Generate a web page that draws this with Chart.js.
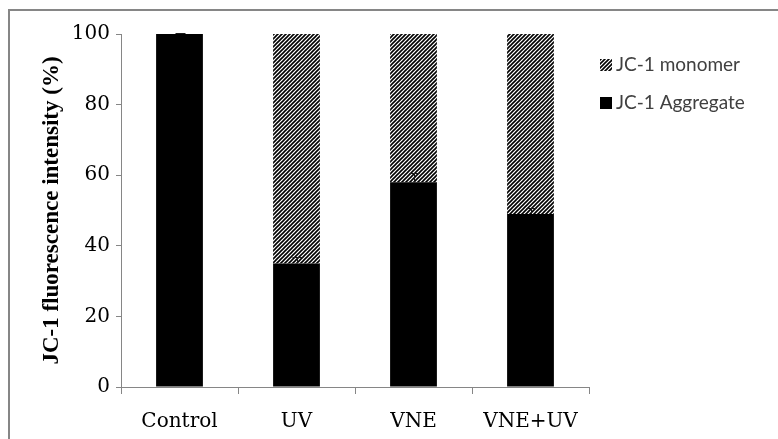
<!DOCTYPE html>
<html>
<head>
<meta charset="utf-8">
<script src="https://cdn.jsdelivr.net/npm/chart.js@4"></script>
<style>
  html, body { margin: 0; padding: 0; background: #fff; }
  #wrap { width: 778px; height: 439px; }
</style>
</head>
<body>
<div id="wrap"><canvas id="c" width="778" height="439"></canvas></div>
<script>
// Groups on the x axis
const categories = ['Control', 'UV', 'VNE', 'VNE+UV'];
// Share of JC-1 signal (%) per group
const aggregateValues = [100, 35, 58, 49];
const monomerValues = [0, 65, 42, 51];
// Upper error (SD) on the aggregate fraction
const aggregateErrors = [0.3, 1.7, 2.6, 1.7];
// Y axis ticks
const yTicks = [0, 20, 40, 60, 80, 100];

const seriesLabels = ['JC-1 Aggregate', 'JC-1 monomer'];
const AXIS_GRAY = '#868686';

// Diagonal "////" fill used for the monomer segment
function makeHatch() {
  const s = 4;
  const c = document.createElement('canvas');
  c.width = s; c.height = s;
  const g = c.getContext('2d');
  g.fillStyle = '#ffffff';
  g.fillRect(0, 0, s, s);
  g.strokeStyle = '#000000';
  g.lineWidth = 1.6;
  g.beginPath();
  g.moveTo(-1, s + 1); g.lineTo(s + 1, -1);
  g.moveTo(-1, 1); g.lineTo(1, -1);
  g.moveTo(s - 1, s + 1); g.lineTo(s + 1, s - 1);
  g.stroke();
  return g.createPattern(c, 'repeat');
}
const hatch = makeHatch();

// Outer frame around the figure
const framePlugin = {
  id: 'frame',
  beforeDraw(chart) {
    const ctx = chart.ctx;
    ctx.save();
    ctx.fillStyle = '#ffffff';
    ctx.fillRect(0, 0, chart.width, chart.height);
    ctx.strokeStyle = AXIS_GRAY;
    ctx.lineWidth = 2;
    ctx.strokeRect(9, 10, 900, 600);
    ctx.restore();
  }
};

// Upper error whiskers on the aggregate bars
const errorBarPlugin = {
  id: 'errorBars',
  afterDatasetsDraw(chart) {
    const ctx = chart.ctx;
    const xs = chart.scales.x, ys = chart.scales.y;
    ctx.save();
    ctx.strokeStyle = '#1a1a1a';
    ctx.lineWidth = 1;
    aggregateErrors.forEach((e, i) => {
      if (!e) return;
      const x = Math.round(xs.getPixelForValue(i)) + 0.5;
      const y0 = ys.getPixelForValue(aggregateValues[i]);
      const y1 = Math.round(ys.getPixelForValue(aggregateValues[i] + e)) + 0.5;
      ctx.beginPath();
      ctx.moveTo(x, y0);
      ctx.lineTo(x, y1);
      ctx.moveTo(x - 5, y1);
      ctx.lineTo(x + 5, y1);
      ctx.stroke();
    });
    ctx.restore();
  }
};

// Legend at the right, monomer listed first
const legendPlugin = {
  id: 'sideLegend',
  afterDraw(chart) {
    const ctx = chart.ctx;
    const items = chart.data.datasets.slice().reverse();
    ctx.save();
    ctx.font = '19px Lato';
    ctx.textBaseline = 'middle';
    ctx.textAlign = 'left';
    items.forEach((ds, k) => {
      const cy = 65 + k * 38;
      ctx.fillStyle = ds.backgroundColor;
      ctx.fillRect(600, cy - 6, 12, 12);
      ctx.fillStyle = '#404040';
      ctx.fillText(ds.label, 616, cy);
    });
    ctx.restore();
  }
};

new Chart(document.getElementById('c'), {
  type: 'bar',
  data: {
    labels: categories,
    datasets: [
      {
        label: seriesLabels[0],
        data: aggregateValues,
        backgroundColor: '#000000',
        borderWidth: 0,
        barPercentage: 0.4,
        categoryPercentage: 1.0
      },
      {
        label: seriesLabels[1],
        data: monomerValues,
        backgroundColor: hatch,
        borderWidth: 0,
        barPercentage: 0.4,
        categoryPercentage: 1.0
      }
    ]
  },
  options: {
    responsive: false,
    animation: false,
    layout: { padding: { left: 0, top: 34, right: 189, bottom: 0 } },
    plugins: {
      legend: { display: false },
      tooltip: { enabled: false }
    },
    scales: {
      x: {
        stacked: true,
        afterFit(s) { s.height = 52; },
        grid: {
          display: true,
          drawOnChartArea: false,
          drawTicks: true,
          tickLength: 7,
          color: AXIS_GRAY,
          offset: true
        },
        border: { display: true, color: AXIS_GRAY, width: 1 },
        ticks: {
          color: '#000000',
          font: { family: 'DejaVu Serif', size: 20 },
          padding: 16,
          maxRotation: 0
        }
      },
      y: {
        stacked: true,
        min: 0,
        max: 100,
        afterFit(s) { s.width = 121; },
        afterBuildTicks(s) { s.ticks = yTicks.map(v => ({ value: v })); },
        grid: {
          display: true,
          drawOnChartArea: false,
          drawTicks: true,
          tickLength: 5,
          color: AXIS_GRAY
        },
        border: { display: true, color: AXIS_GRAY, width: 1 },
        ticks: {
          color: '#000000',
          font: { family: 'DejaVu Serif', size: 20 },
          padding: 6
        },
        title: {
          display: true,
          text: 'JC-1 fluorescence intensity (%)',
          color: '#000000',
          font: { family: 'Liberation Serif', size: 23, weight: 'bold' },
          padding: { top: 38, bottom: 0 }
        }
      }
    }
  },
  plugins: [framePlugin, errorBarPlugin, legendPlugin]
});
</script>
</body>
</html>
